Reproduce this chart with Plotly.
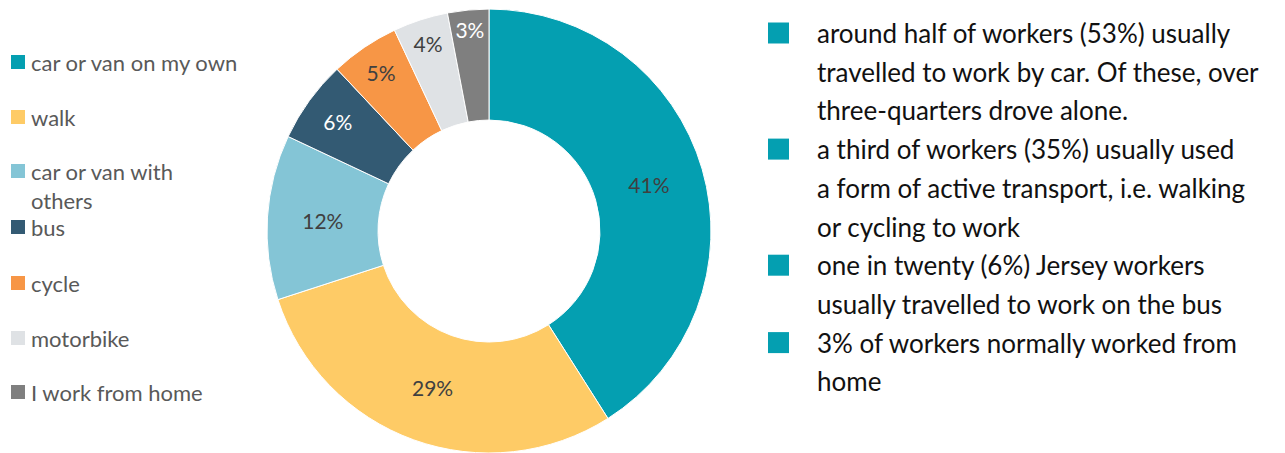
import plotly.graph_objects as go

# data
modes = ["car or van on my own", "walk", "car or van with<br>others", "bus",
         "cycle", "motorbike", "I work from home"]
shares = [41, 29, 12, 6, 5, 4, 3]
colours = ["#049FB1", "#FECB66", "#84C5D6", "#335A73", "#F79646", "#DFE2E5", "#7F7F7F"]
label_colours = ["#404040", "#404040", "#404040", "#FFFFFF", "#404040", "#404040", "#FFFFFF"]

notes = [
    ["around half of workers (53%) usually",
     "travelled to work by car. Of these, over",
     "three-quarters drove alone."],
    ["a third of workers (35%) usually used",
     "a form of active transport, i.e. walking",
     "or cycling to work"],
    ["one in twenty (6%) Jersey workers",
     "usually travelled to work on the bus"],
    ["3% of workers normally worked from",
     "home"],
]

W, H = 1285, 453
FONT = "Lato"

fig = go.Figure(go.Pie(
    labels=modes,
    values=shares,
    hole=0.5,
    sort=False,
    direction="clockwise",
    rotation=0,
    marker=dict(colors=colours, line=dict(color="white", width=1)),
    texttemplate="%{percent:.0%}",
    textposition="inside",
    insidetextorientation="horizontal",
    textfont=dict(family=FONT, size=21, color=label_colours),
    domain=dict(x=[267 / W, 711 / W], y=[0.0, 0.98]),
    showlegend=False,
))

shapes = []
annotations = []

# legend on the left, drawn by hand so the spacing matches
legend_y = [62, 117, 171, 227, 283, 338, 392]
for name, col, y in zip(modes, colours, legend_y):
    shapes.append(dict(type="rect", xref="paper", yref="paper",
                       x0=11 / W, x1=25 / W, y0=1 - (y + 7) / H, y1=1 - (y - 7) / H,
                       fillcolor=col, line=dict(width=0)))
    annotations.append(dict(text=name, x=29 / W, y=1 - (y - 15) / H, xref="paper", yref="paper",
                            xanchor="left", yanchor="top", showarrow=False, align="left",
                            font=dict(family=FONT, size=22, color="#595959")))

# bullet notes on the right
line_gap = 38.7
y = 33
for para in notes:
    shapes.append(dict(type="rect", xref="paper", yref="paper",
                       x0=768 / W, x1=789 / W, y0=1 - (y + 10.5) / H, y1=1 - (y - 10.5) / H,
                       fillcolor="#049FB1", line=dict(width=0)))
    for line in para:
        annotations.append(dict(text=line, x=815 / W, y=1 - y / H, xref="paper", yref="paper",
                                xanchor="left", yanchor="middle", showarrow=False,
                                font=dict(family=FONT, size=26, color="#111111")))
        y += line_gap

fig.update_layout(
    width=W, height=H,
    margin=dict(l=0, r=0, t=0, b=0),
    paper_bgcolor="white",
    plot_bgcolor="white",
    shapes=shapes,
    annotations=annotations,
)

# drop the default page margin so the figure sits at the window's corner
fig.write_html("out.html", config={"displayModeBar": False},
               post_script="document.body.style.margin = '0';")
